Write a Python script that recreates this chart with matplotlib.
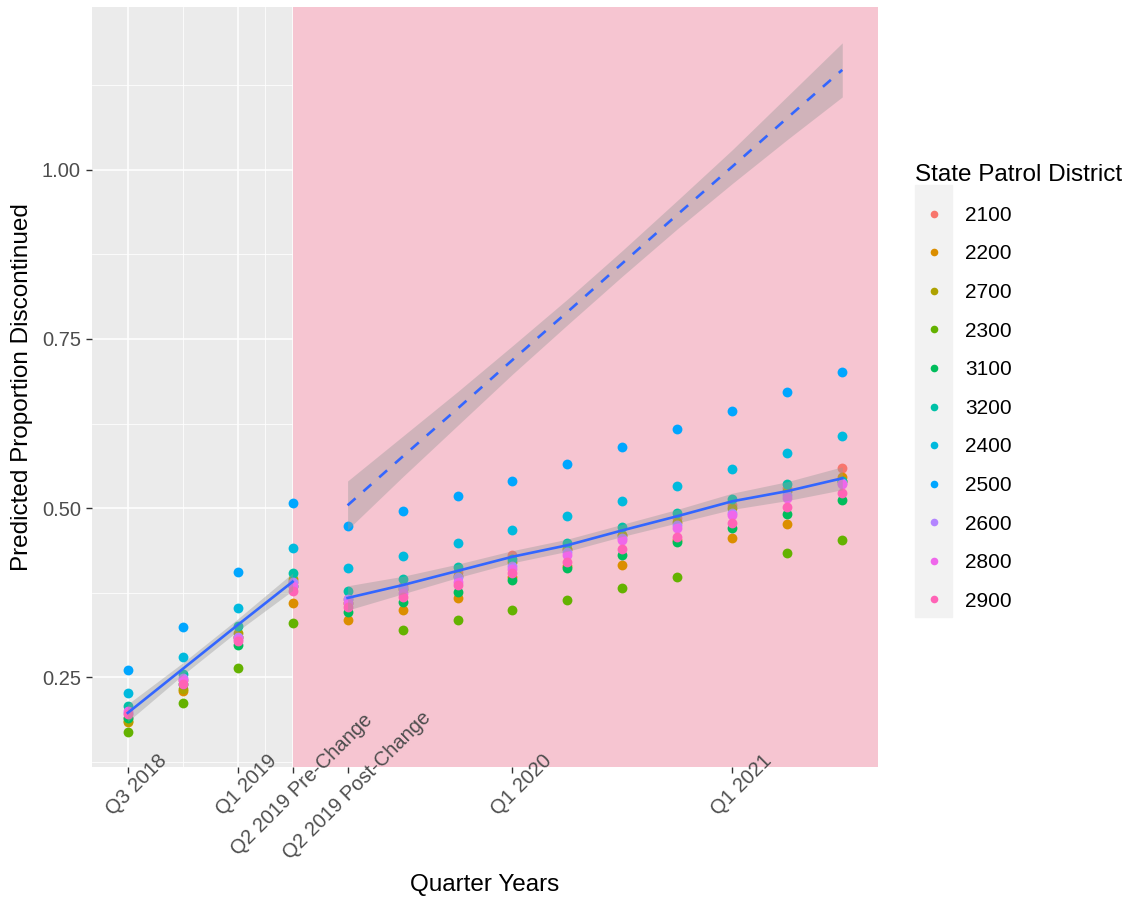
import numpy as np
import matplotlib
matplotlib.use('Agg')
import matplotlib.pyplot as plt
import matplotlib.transforms as mtransforms
from matplotlib.lines import Line2D
from matplotlib.patches import Rectangle

plt.rcParams['font.family'] = ['Liberation Sans', 'DejaVu Sans']

# quarter index: 0 = Q3 2018 ... 3 = Q2 2019 pre, 4 = Q2 2019 post ... 13 = Q3 2021
quarters = np.arange(14)
tick_pos = [0, 2, 3, 4, 7, 11]
tick_labels = ['Q3 2018', 'Q1 2019', 'Q2 2019 Pre-Change', 'Q2 2019 Post-Change', 'Q1 2020', 'Q1 2021']
minor_x = [1, 2.5, 3.5, 5.5, 9]
major_y = [0.25, 0.5, 0.75, 1.0]
minor_y = [0.125, 0.375, 0.625, 0.875, 1.125]

districts = ['2100', '2200', '2700', '2300', '3100', '3200', '2400', '2500', '2600', '2800', '2900']
colors = ['#F8766D', '#DB8E00', '#AEA200', '#64B200', '#00BD5C', '#00C1A7',
          '#00BADE', '#00A6FF', '#B385FF', '#EF67EB', '#FF63B6']

nan = np.nan
d2100 = [0.190, 0.245, 0.310, 0.390, 0.365, 0.385, 0.405, 0.430, 0.440, 0.460, 0.485, 0.505, 0.530, 0.559]
d2200 = [0.183, 0.230, 0.310, 0.359, 0.334, 0.349, 0.367, 0.398, 0.415, 0.416, 0.452, 0.456, 0.476, 0.546]
d2700 = [0.185, 0.232, 0.315, 0.395, 0.360, 0.380, 0.400, 0.420, 0.440, 0.460, 0.480, 0.500, 0.525, 0.540]
d2300 = [0.169, 0.212, 0.263, 0.330, nan, 0.320, 0.334, 0.349, 0.364, 0.382, 0.398, nan, 0.433, 0.453]
d3100 = [0.190, 0.240, 0.297, 0.385, 0.346, 0.361, 0.376, 0.393, 0.411, 0.430, 0.450, 0.470, 0.491, 0.512]
d3200 = [0.207, 0.255, 0.325, 0.404, 0.377, 0.395, 0.413, 0.425, 0.449, 0.472, 0.493, 0.513, 0.535, 0.540]
d2400 = [0.226, 0.280, 0.352, 0.441, 0.411, 0.429, 0.448, 0.467, 0.488, 0.510, 0.533, 0.558, 0.582, 0.607]
d2500 = [0.260, 0.324, 0.405, 0.507, 0.473, 0.496, 0.518, 0.540, 0.565, 0.590, 0.617, 0.644, 0.672, 0.701]
d2600 = [0.197, 0.248, 0.310, 0.390, 0.365, 0.382, 0.398, 0.415, 0.435, 0.455, 0.475, 0.493, 0.520, 0.537]
d2800 = [0.200, 0.245, 0.307, 0.385, 0.360, 0.375, 0.390, 0.410, 0.430, 0.452, 0.470, 0.490, 0.515, 0.535]
d2900 = [0.195, 0.240, 0.303, 0.378, 0.354, 0.368, 0.386, 0.404, 0.420, 0.439, 0.457, 0.478, 0.501, 0.522]
series = [d2100, d2200, d2700, d2300, d3100, d3200, d2400, d2500, d2600, d2800, d2900]

# fitted lines with confidence band half-widths
pre_x = [0, 1, 2, 3]
pre_fit = [0.197, 0.262, 0.327, 0.391]
pre_se = [0.013, 0.009, 0.009, 0.013]
post_x = [4, 5, 6, 7, 8, 9, 10, 11, 12, 13]
post_fit = [0.367, 0.386, 0.407, 0.428, 0.445, 0.467, 0.488, 0.510, 0.525, 0.544]
post_se = [0.018, 0.013, 0.010, 0.009, 0.009, 0.009, 0.010, 0.012, 0.014, 0.017]
proj_fit = [0.504, 0.576, 0.647, 0.719, 0.790, 0.862, 0.934, 1.005, 1.077, 1.148]
proj_se = [0.036, 0.030, 0.025, 0.021, 0.019, 0.019, 0.021, 0.025, 0.032, 0.040]

fig = plt.figure(figsize=(11.39, 8.98), dpi=100)
ax = fig.add_axes([92 / 1139, 1 - 767 / 898, (878 - 92) / 1139, (767 - 7) / 898])
ax.set_facecolor('#EBEBEB')
ax.set_xlim(-0.65, 13.65)
ax.set_ylim(0.117, 1.241)

# grid drawn by hand so it stays under the shading
for v in tick_pos:
    ax.axvline(v, color='white', lw=1.1, zorder=0.5)
for v in minor_x:
    ax.axvline(v, color='white', lw=0.55, zorder=0.5)
for v in major_y:
    ax.axhline(v, color='white', lw=1.1, zorder=0.5)
for v in minor_y:
    ax.axhline(v, color='white', lw=0.55, zorder=0.5)

ax.set_xticks(tick_pos)
ax.set_yticks(major_y)
ax.set_yticklabels(['0.25', '0.50', '0.75', '1.00'])
for s in ax.spines.values():
    s.set_visible(False)
ax.tick_params(axis='both', which='major', colors='#333333', labelcolor='#4D4D4D',
               labelsize=14.5, length=4, width=1)
ax.tick_params(axis='x', labelbottom=False)
ax.tick_params(axis='y', which='major', pad=4)

# rotated x labels, centred a little right of and below each tick (as ggplot does)
offset = mtransforms.ScaledTranslation(9 / 100, -18 / 100, fig.dpi_scale_trans)
for pos, lab in zip(tick_pos, tick_labels):
    ax.text(pos, 0, lab, transform=ax.get_xaxis_transform() + offset, rotation=45,
            rotation_mode='anchor', ha='center', va='center', fontsize=14.5,
            color='#4D4D4D', clip_on=False, zorder=6)

# post-change shading
ax.axvspan(3, 13.65, color='#F6C5D1', lw=0, zorder=1)

for vals, c in zip(series, colors):
    ax.scatter(quarters, vals, s=50, color=c, lw=0, zorder=3)

ax.fill_between(pre_x, np.array(pre_fit) - pre_se, np.array(pre_fit) + pre_se,
                color='#999999', alpha=0.4, lw=0, zorder=4)
ax.fill_between(post_x, np.array(post_fit) - post_se, np.array(post_fit) + post_se,
                color='#999999', alpha=0.4, lw=0, zorder=4)
ax.fill_between(post_x, np.array(proj_fit) - proj_se, np.array(proj_fit) + proj_se,
                color='#999999', alpha=0.4, lw=0, zorder=4)
ax.plot(pre_x, pre_fit, color='#3366FF', lw=1.9, zorder=5)
ax.plot(post_x, post_fit, color='#3366FF', lw=1.9, zorder=5)
ax.plot(post_x, proj_fit, color='#3366FF', lw=1.9, ls=(0, (4, 4)), zorder=5)

ax.set_xlabel('Quarter Years', fontsize=17.5, color='black')
ax.xaxis.set_label_coords(0.5, -(874 - 767) / 760)
ax.set_ylabel('Predicted Proportion Discontinued', fontsize=17.5, color='black')
ax.yaxis.set_label_coords(-(92 - 33) / 786, 0.5)

# legend with grey key column
fig.patches.append(Rectangle((915 / 1139, 1 - 617 / 898), 37 / 1139, 432 / 898,
                             transform=fig.transFigure, color='#F2F2F2', zorder=0))
handles = [Line2D([], [], ls='none', marker='o', markersize=5.5, color=c, markeredgewidth=0)
           for c in colors]
leg = fig.legend(handles, districts, loc='upper left', bbox_to_anchor=(907 / 1139, 1 - 156 / 898),
                 frameon=False, title='State Patrol District', title_fontsize=17.5, fontsize=15,
                 handlelength=1.78, handletextpad=0.6, labelspacing=0.94, alignment='left',
                 borderaxespad=0)

fig.savefig('out.png', dpi=100)
